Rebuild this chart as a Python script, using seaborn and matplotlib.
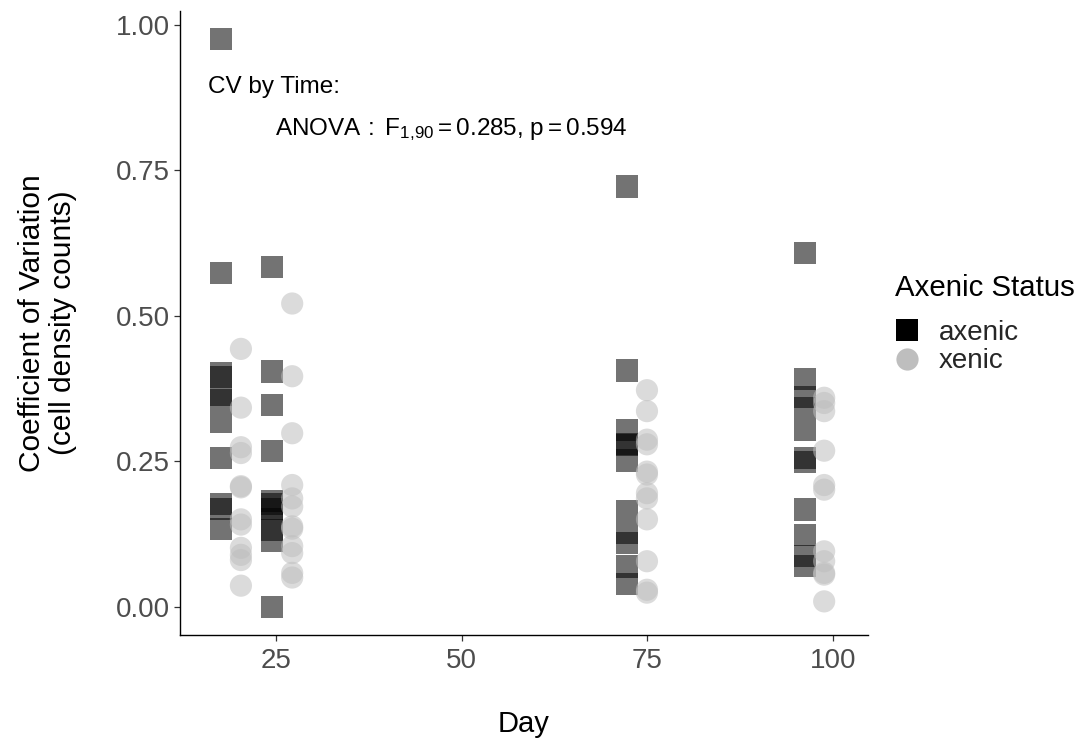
import numpy as np
import pandas as pd
import matplotlib
matplotlib.use("Agg")
import matplotlib.pyplot as plt
import seaborn as sns
from matplotlib.lines import Line2D

# ---- data ----
axenic_day = [17.6, 24.5, 72.3, 96.2]
xenic_day = [20.3, 27.2, 74.95, 98.8]

axenic_cv = [
    [0.975, 0.573, 0.402, 0.395, 0.364, 0.355, 0.317, 0.256, 0.176, 0.168, 0.134],
    [0.584, 0.404, 0.346, 0.268, 0.181, 0.176, 0.168, 0.150, 0.132, 0.113, 0.000],
    [0.722, 0.406, 0.303, 0.280, 0.278, 0.251, 0.165, 0.126, 0.110, 0.069, 0.039],
    [0.608, 0.391, 0.360, 0.342, 0.303, 0.256, 0.249, 0.167, 0.123, 0.087, 0.070],
]
xenic_cv = [
    [0.443, 0.342, 0.274, 0.264, 0.207, 0.205, 0.150, 0.141, 0.101, 0.089, 0.080, 0.036],
    [0.521, 0.396, 0.298, 0.209, 0.186, 0.172, 0.138, 0.134, 0.104, 0.092, 0.058, 0.050],
    [0.372, 0.336, 0.287, 0.279, 0.232, 0.227, 0.195, 0.186, 0.150, 0.078, 0.029, 0.024],
    [0.359, 0.350, 0.336, 0.268, 0.209, 0.201, 0.095, 0.078, 0.058, 0.055, 0.009],
]

status_levels = ["axenic", "xenic"]
x_ticks = [25, 50, 75, 100]
y_ticks = [0.00, 0.25, 0.50, 0.75, 1.00]

rows = []
for d, vals in zip(axenic_day, axenic_cv):
    for v in vals:
        rows.append(("axenic", d, v))
for d, vals in zip(xenic_day, xenic_cv):
    for v in vals:
        rows.append(("xenic", d, v))
df = pd.DataFrame(rows, columns=["Axenic Status", "Day", "CV"])

# ---- style ----
sns.set_theme(style="white")
plt.rcParams["font.family"] = ["Liberation Sans", "DejaVu Sans"]
plt.rcParams["mathtext.fontset"] = "custom"
plt.rcParams["mathtext.rm"] = "Liberation Sans"
plt.rcParams["mathtext.it"] = "Liberation Sans:italic"
plt.rcParams["mathtext.bf"] = "Liberation Sans:bold"

palette = {"axenic": "#000000", "xenic": "#bebebe"}
markers = {"axenic": "s", "xenic": "o"}

fig = plt.figure(figsize=(10.84, 7.47), dpi=100)
ax = fig.add_axes([180 / 1084, 1 - 635 / 747, (868 - 180) / 1084, (635 - 11) / 747])

sns.scatterplot(data=df, x="Day", y="CV", hue="Axenic Status", style="Axenic Status",
                palette=palette, markers=markers, hue_order=status_levels,
                style_order=status_levels, s=255, alpha=0.55, linewidth=0,
                legend=False, ax=ax)

ax.set_xlim(12.1, 104.7)
ax.set_ylim(-0.0488, 1.0238)
ax.set_xticks(x_ticks)
ax.set_xticklabels([str(t) for t in x_ticks])
ax.set_yticks(y_ticks)
ax.set_yticklabels([f"{t:.2f}" for t in y_ticks])

for side in ["top", "right"]:
    ax.spines[side].set_visible(False)
for side in ["left", "bottom"]:
    ax.spines[side].set_color("#000000")
    ax.spines[side].set_linewidth(1.0)

ax.tick_params(axis="both", which="major", length=4.5, width=0.9, color="#333333",
               labelcolor="#4d4d4d", labelsize=20, left=True, bottom=True)
ax.tick_params(axis="x", pad=5.0)
ax.tick_params(axis="y", pad=3.0)

ax.set_xlabel("Day", fontsize=21, color="black", labelpad=25.5)
ax.set_ylabel("Coefficient of Variation\n(cell density counts)", fontsize=21.5,
              color="black", labelpad=28, linespacing=1.12)

ax.text(15.85, 0.893, "CV by Time:", fontsize=17.5, ha="left", va="center", color="black")
ax.text(24.95, 0.820,
        r"$\mathrm{ANOVA\,{:}\ F_{1{,}90} = 0.285{,}\ p = 0.594}$",
        fontsize=17.5, ha="left", va="center", color="black")

fig.text(895 / 1084, 1 - 288 / 747, "Axenic Status", fontsize=21.2,
         ha="left", va="center", color="black")
handles = [
    Line2D([0], [0], marker="s", linestyle="none", markersize=16,
           markerfacecolor="#000000", markeredgewidth=0, label="axenic"),
    Line2D([0], [0], marker="o", linestyle="none", markersize=16,
           markerfacecolor="#bebebe", markeredgewidth=0, label="xenic"),
]
leg = fig.legend(handles=handles, loc="center left",
                 bbox_to_anchor=(893.6 / 1084, 1 - 347 / 747), frameon=False,
                 fontsize=20, labelspacing=0.09, handletextpad=0.63,
                 handlelength=1.0, borderpad=0.0, borderaxespad=0.0)

fig.savefig("out.png", dpi=100)
